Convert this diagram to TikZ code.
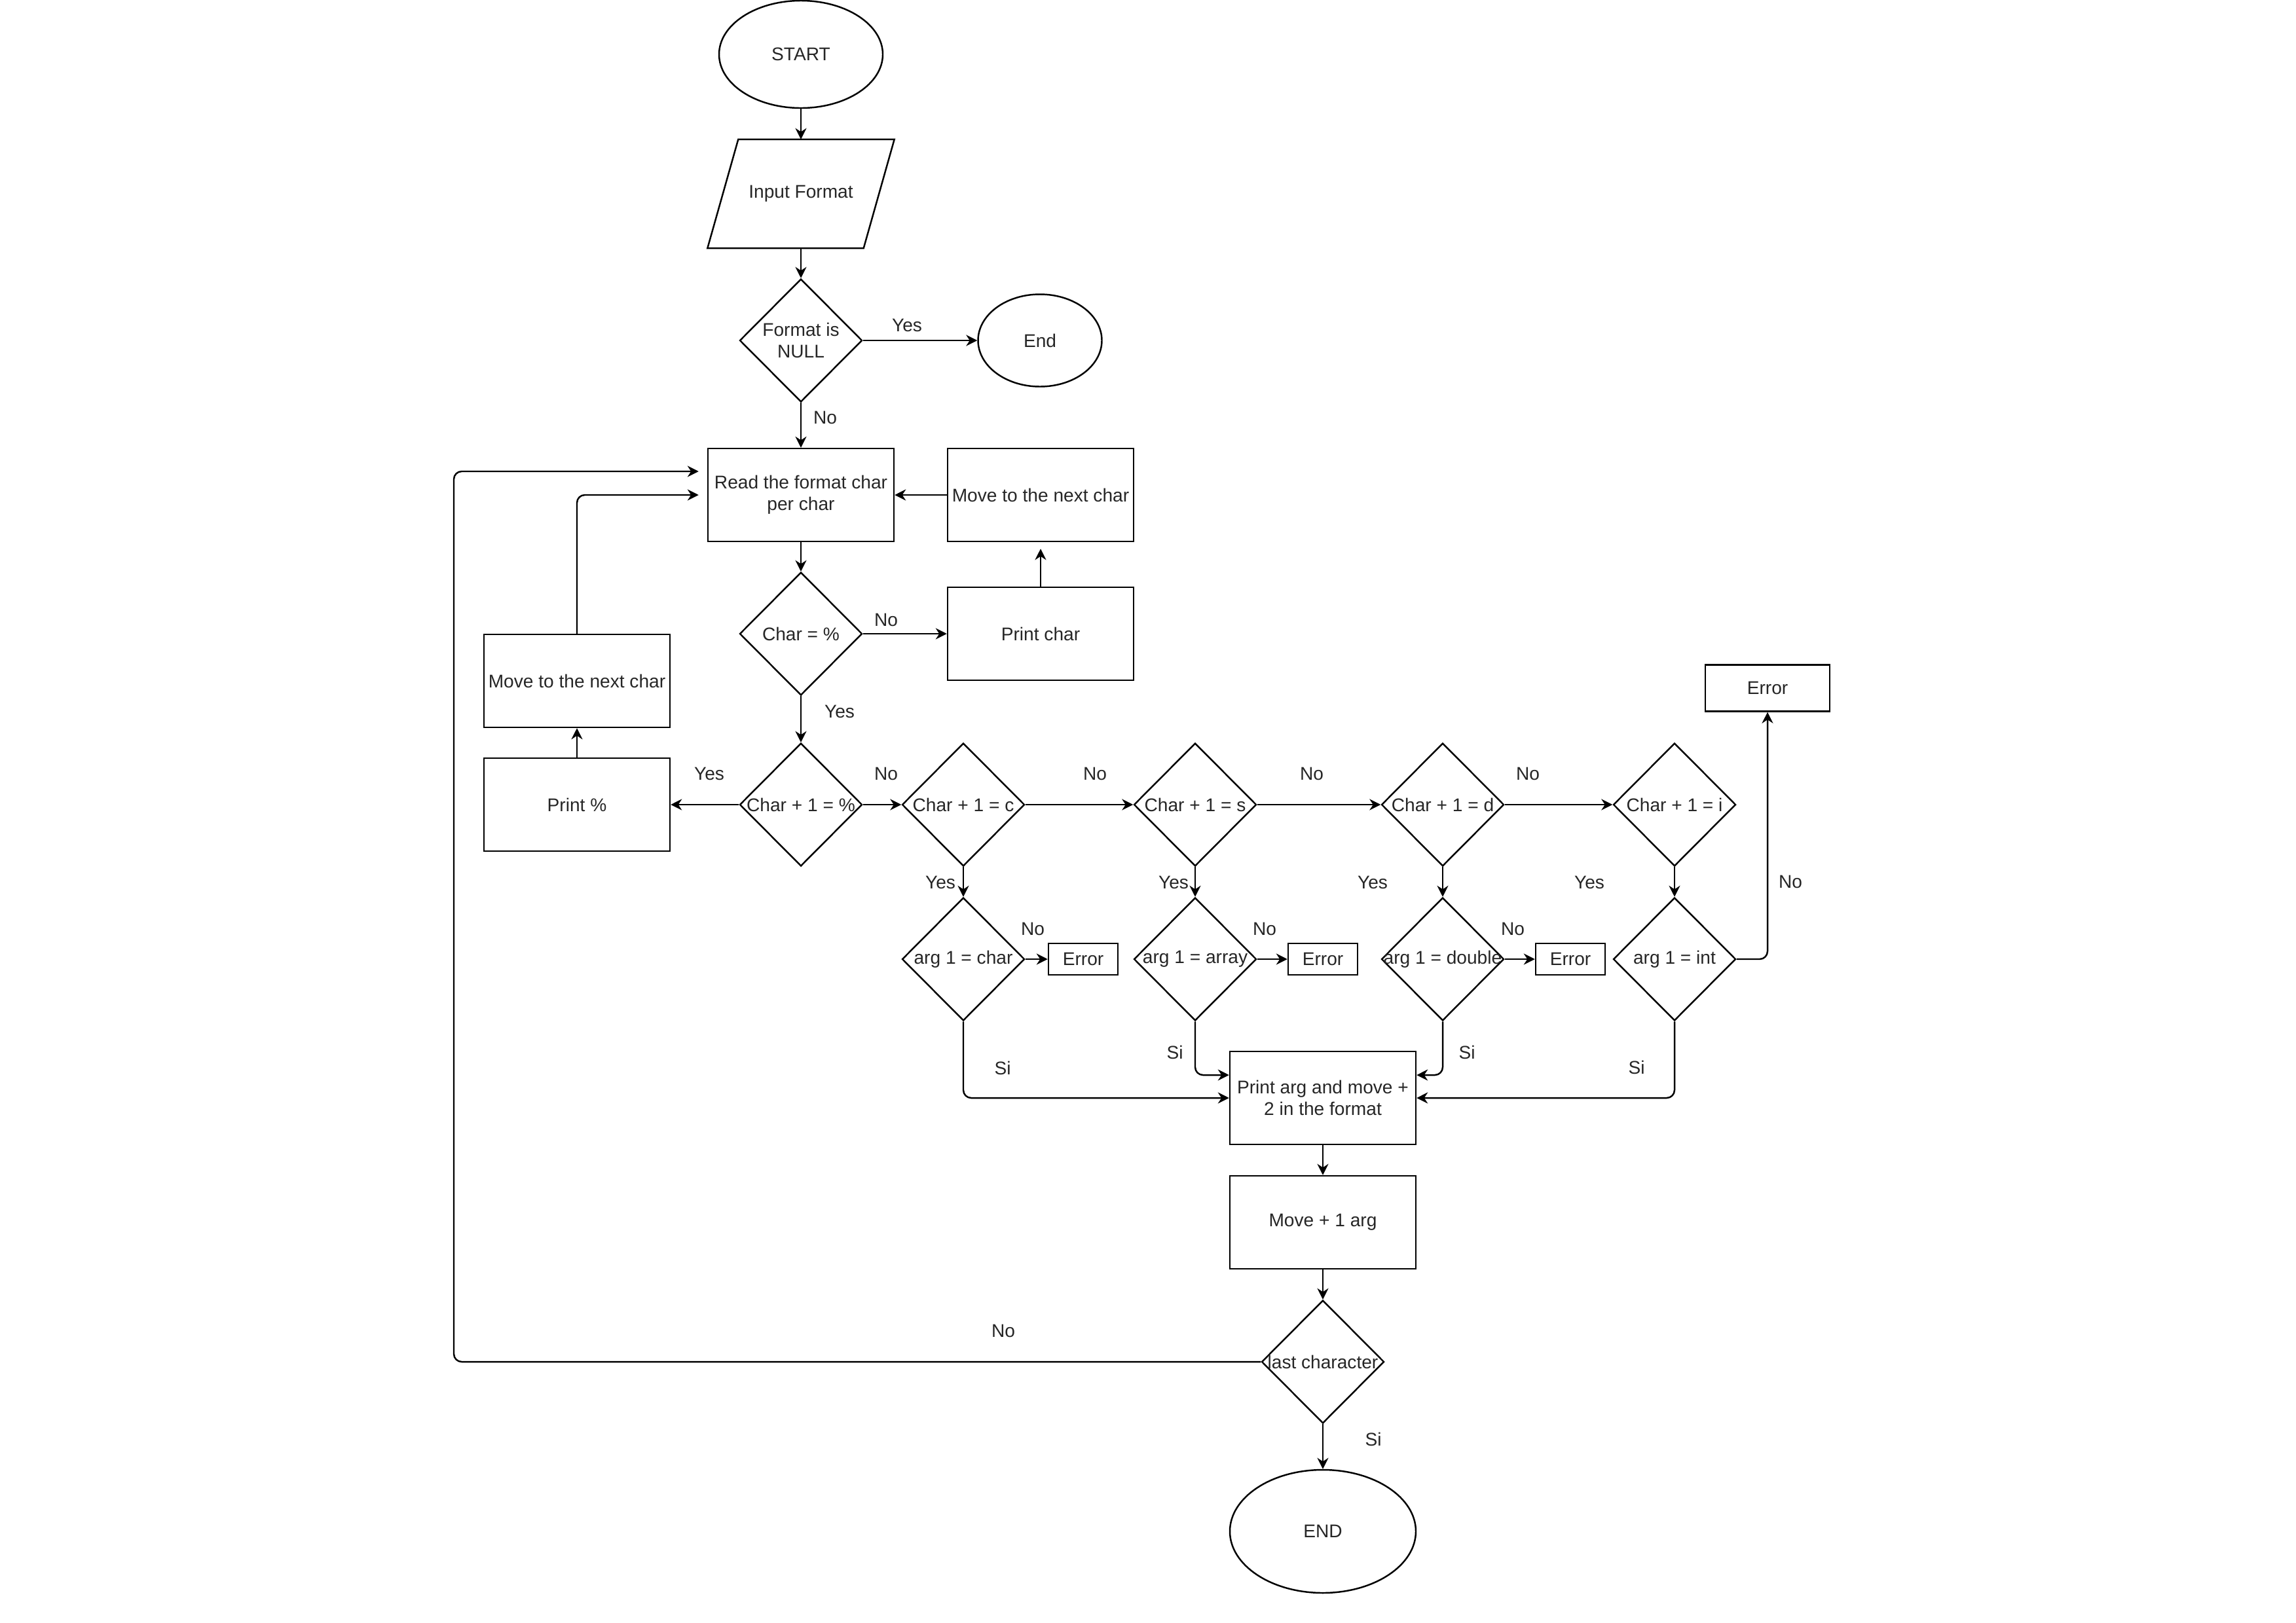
\documentclass[tikz,border=0pt]{standalone}
\usepackage{fontspec}
\setmainfont{Liberation Sans}
\usepackage{tikz}
\usetikzlibrary{arrows.meta,calc,shapes.geometric}
\newcommand{\dtext}[1]{\makebox[0pt]{#1}}
\tikzset{
  terminal/.style={draw, ellipse, line width=0.7pt, inner sep=0pt, align=center},
  inout/.style={minimum width=2.37cm, minimum height=1.65cm, inner sep=0pt, align=center},
  process/.style={draw, line width=0.7pt, minimum width=2.84cm, minimum height=1.42cm, inner sep=1pt, align=center},
  errbox/.style={draw, line width=0.7pt, minimum width=1.06cm, minimum height=0.48cm, inner sep=0pt},
  decision/.style={draw, diamond, aspect=1, line width=0.7pt, inner sep=0pt, minimum width=1.87cm, minimum height=1.88cm, align=center},
  lbl/.style={inner sep=0pt},
  flow/.style={-{Stealth[length=1.7mm, width=1.7mm]}, line width=0.7pt, rounded corners=1.2mm}
}
\begin{document}
\begin{tikzpicture}[x=1cm,y=1cm, font=\fontsize{8pt}{9.5pt}\selectfont, text=black!85]
  \useasboundingbox (0,0) rectangle (35.06,-24.79);

  % main column
  \node[terminal, minimum width=2.50cm, minimum height=1.64cm] (start) at (12.23,-0.83) {START};
  \node[inout] (input) at (12.23,-2.96) {Input Format};
  \draw[line width=0.7pt] ([xshift=2.35mm]input.north west) -- ([xshift=2.35mm]input.north east)
    -- ([xshift=-2.35mm]input.south east) -- ([xshift=-2.35mm]input.south west) -- cycle;
  \node[decision] (isnull) at (12.23,-5.20) {Format is\\NULL};
  \node[terminal, minimum width=1.89cm, minimum height=1.41cm] (theend) at (15.88,-5.20) {End};
  \node[process] (read) at (12.23,-7.56) {Read the format char\\per char};
  \node[process] (nextr) at (15.89,-7.56) {Move to the next char};
  \node[decision] (ispct) at (12.23,-9.68) {\dtext{Char = \%}};
  \node[process] (printc) at (15.89,-9.68) {Print char};
  \node[process] (nextl) at (8.81,-10.40) {Move to the next char};
  \node[process] (printp) at (8.81,-12.29) {Print \%};

  % specifier row
  \node[decision] (pct2) at (12.23,-12.29) {\dtext{Char + 1 = \%}};
  \node[decision] (isc) at (14.71,-12.29) {\dtext{Char + 1 = c}};
  \node[decision] (iss) at (18.25,-12.29) {\dtext{Char + 1 = s}};
  \node[decision] (isd) at (22.03,-12.29) {\dtext{Char + 1 = d}};
  \node[decision] (isi) at (25.57,-12.29) {\dtext{Char + 1 = i}};
  \node[errbox, minimum width=1.90cm, minimum height=0.71cm] (erri) at (26.99,-10.51) {Error};

  % argument checks
  \node[decision] (argc) at (14.71,-14.65) {\dtext{arg 1 = char}};
  \node[decision] (args) at (18.25,-14.65) {\dtext{arg 1 = array}};
  \node[decision] (argd) at (22.03,-14.65) {\dtext{arg 1 = double}};
  \node[decision] (argi) at (25.57,-14.65) {\dtext{arg 1 = int}};
  \node[errbox] (errc) at (16.54,-14.65) {Error};
  \node[errbox] (errs) at (20.20,-14.65) {Error};
  \node[errbox] (errd) at (23.98,-14.65) {Error};

  % tail
  \node[process] (printarg) at (20.20,-16.77) {Print arg and move +\\2 in the format};
  \node[process] (movearg) at (20.20,-18.67) {Move + 1 arg};
  \node[decision] (islast) at (20.20,-20.80) {\dtext{last character}};
  \node[terminal, minimum width=2.84cm, minimum height=1.88cm] (finish) at (20.20,-23.39) {END};
  \coordinate (loopx) at (6.93,-7.20);

  \draw[flow] (start) -- (input);
  \draw[flow] (input) -- (isnull);
  \draw[flow] (isnull.east) -- (theend.west);
  \draw[flow] (isnull.south) -- (read.north);
  \draw[flow] (read.south) -- (ispct.north);
  \draw[flow] (ispct.east) -- (printc.west);
  \draw[flow] (printc.north) -- ([yshift=-1mm]nextr.south);
  \draw[flow] (nextr.west) -- (read.east);
  \draw[flow] (ispct.south) -- (pct2.north);
  \draw[flow] (pct2.west) -- (printp.east);
  \draw[flow] (printp.north) -- (nextl.south);
  \draw[flow] (nextl.north) |- ([xshift=-1.3mm]read.west);
  \draw[flow] (pct2.east) -- (isc.west);
  \draw[flow] (isc.east) -- (iss.west);
  \draw[flow] (iss.east) -- (isd.west);
  \draw[flow] (isd.east) -- (isi.west);
  \draw[flow] (isc.south) -- (argc.north);
  \draw[flow] (iss.south) -- (args.north);
  \draw[flow] (isd.south) -- (argd.north);
  \draw[flow] (isi.south) -- (argi.north);
  \draw[flow] (argc.east) -- (errc.west);
  \draw[flow] (args.east) -- (errs.west);
  \draw[flow] (argd.east) -- (errd.west);
  \draw[flow] (argi.east) -| (erri.south);
  \draw[flow] (argc.south) |- (printarg.west);
  \draw[flow] (args.south) |- ([yshift=3.5mm]printarg.west);
  \draw[flow] (argd.south) |- ([yshift=3.5mm]printarg.east);
  \draw[flow] (argi.south) |- (printarg.east);
  \draw[flow] (printarg.south) -- (movearg.north);
  \draw[flow] (movearg.south) -- (islast.north);
  \draw[flow] (islast.south) -- (finish.north);
  \draw[flow] (islast.west) -| (loopx) -- ([xshift=-1.3mm,yshift=3.6mm]read.west);

  % branch labels
  \node[lbl] (y1) at (13.85,-4.97) {Yes};
  \node[lbl] (n1) at (12.60,-6.38) {No};
  \node[lbl] (n2) at (13.53,-9.47) {No};
  \node[lbl] (y2) at (12.82,-10.87) {Yes};
  \node[lbl] (y3) at (10.83,-11.82) {Yes};
  \node[lbl] (n3) at (13.53,-11.82) {No};
  \node[lbl] (n4) at (16.72,-11.82) {No};
  \node[lbl] (n5) at (20.03,-11.82) {No};
  \node[lbl] (n6) at (23.33,-11.82) {No};
  \node[lbl] (y4) at (14.36,-13.48) {Yes};
  \node[lbl] (y5) at (17.92,-13.48) {Yes};
  \node[lbl] (y6) at (20.96,-13.48) {Yes};
  \node[lbl] (y7) at (24.27,-13.48) {Yes};
  \node[lbl] (n7) at (15.77,-14.19) {No};
  \node[lbl] (n8) at (19.31,-14.19) {No};
  \node[lbl] (n9) at (23.10,-14.19) {No};
  \node[lbl] (n10) at (27.34,-13.47) {No};
  \node[lbl] (s1) at (15.31,-16.31) {Si};
  \node[lbl] (s2) at (17.94,-16.07) {Si};
  \node[lbl] (s3) at (22.40,-16.07) {Si};
  \node[lbl] (s4) at (24.99,-16.30) {Si};
  \node[lbl] (n11) at (15.32,-20.33) {No};
  \node[lbl] (s5) at (20.97,-21.98) {Si};
\end{tikzpicture}
\end{document}
